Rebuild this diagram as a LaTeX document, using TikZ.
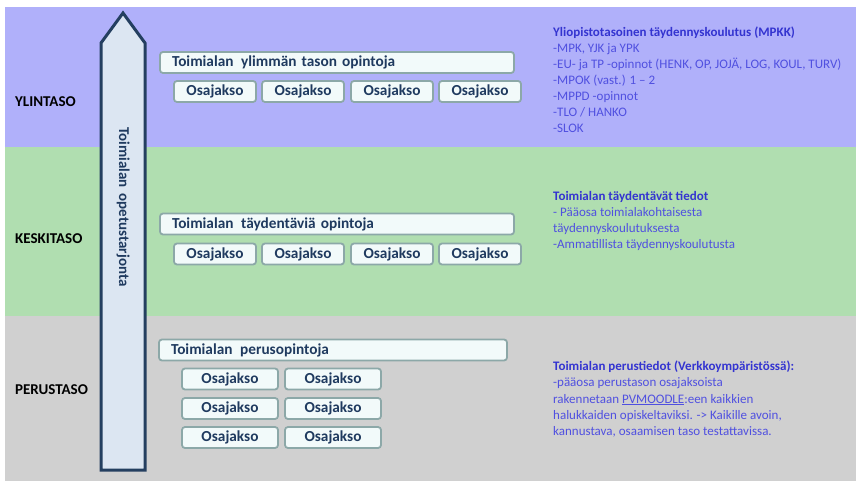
\documentclass[tikz,border=0pt]{standalone}
\usepackage{fontspec}
\setmainfont{Carlito}
\usetikzlibrary{positioning}
\definecolor{ylin-bg}{HTML}{B0B0FA}
\definecolor{keski-bg}{HTML}{B0DEB0}
\definecolor{perus-bg}{HTML}{D0D0D0}
\definecolor{box-line}{HTML}{8CA8A8}
\definecolor{box-fill}{HTML}{F2FAFA}
\definecolor{box-text}{HTML}{1F3A5F}
\definecolor{arrow-line}{HTML}{243F60}
\definecolor{arrow-fill}{HTML}{DCE6F2}
\definecolor{info-title}{HTML}{3434D0}
\definecolor{info-text}{HTML}{5050E0}
\newcommand{\drawOsajakso}[4]{
	\node[osa, minimum width=#4] (#1) at (#2,#3) {Osajakso};
}

\begin{document}
\begin{tikzpicture}[x=1pt, y=-1pt,
	osa/.style={draw=box-line, fill=box-fill, line width=1.8pt, rounded corners=3pt,
		minimum height=21pt, inner sep=0pt, text=box-text, font=\bfseries\fontsize{15.3}{17}\selectfont},
	titlebox/.style={osa, text width=330pt, inner xsep=12pt, align=left},
	level/.style={anchor=west, inner sep=0pt, font=\bfseries\fontsize{15}{17}\selectfont},
	info/.style={anchor=north west, inner sep=0pt, align=left, text=info-text,
		font=\fontsize{13}{16.1}\selectfont}]

	\useasboundingbox (0,0) rectangle (856,481);

	% background bands
	\fill[ylin-bg]  (5,7)   rectangle (856,147);
	\fill[keski-bg] (5,147) rectangle (856,316);
	\fill[perus-bg] (5,316) rectangle (856,481);

	\node[level] (ylintaso)  at (15,102) {YLINTASO};
	\node[level] (keskitaso) at (15,239) {KESKITASO};
	\node[level] (perustaso) at (15,390) {PERUSTASO};

	% the big arrow
	\draw[draw=arrow-line, fill=arrow-fill, line width=3pt, line join=miter]
		(101,470) -- (101,43) -- (123,13) -- (145,43) -- (145,470) -- cycle;
	\node[rotate=-90, text=box-text, font=\bfseries\fontsize{15}{17}\selectfont] (tarjonta)
		at (123,207) {Toimialan\, opetustarjonta};

	% ylintaso
	\node[titlebox] (ylin) at (337,62.5) {Toimialan\, ylimmän tason opintoja};
	\drawOsajakso{ylinA}{215}{91.5}{82pt}
	\drawOsajakso{ylinB}{303}{91.5}{82pt}
	\drawOsajakso{ylinC}{392}{91.5}{82pt}
	\drawOsajakso{ylinD}{480}{91.5}{82pt}

	% keskitaso
	\node[titlebox] (keski) at (337,224) {Toimialan\, täydentäviä opintoja};
	\drawOsajakso{keskiA}{215}{254}{82pt}
	\drawOsajakso{keskiB}{303}{254}{82pt}
	\drawOsajakso{keskiC}{392}{254}{82pt}
	\drawOsajakso{keskiD}{480}{254}{82pt}

	% perustaso
	\node[titlebox, text width=324pt] (perus) at (333,350) {Toimialan\, perusopintoja};
	\drawOsajakso{perusA}{230}{379}{96pt}
	\drawOsajakso{perusB}{333}{379}{96pt}
	\drawOsajakso{perusC}{230}{408.5}{96pt}
	\drawOsajakso{perusD}{333}{408.5}{96pt}
	\drawOsajakso{perusE}{230}{437.5}{96pt}
	\drawOsajakso{perusF}{333}{437.5}{96pt}

	% info texts
	\node[info] (ylinInfo) at (553,26.5) {\textcolor{info-title}{\bfseries Yliopistotasoinen täydennyskoulutus (MPKK)}\\
		-MPK, YJK ja YPK\\
		-EU- ja TP -opinnot (HENK, OP, JOJÄ, LOG, KOUL, TURV)\\
		-MPOK (vast.) 1 – 2\\
		-MPPD -opinnot\\
		-TLO / HANKO\\
		-SLOK};
	\node[info] (keskiInfo) at (553,191) {\textcolor{info-title}{\bfseries Toimialan täydentävät tiedot}\\
		- Pääosa toimialakohtaisesta\\
		täydennyskoulutuksesta\\
		-Ammatillista täydennyskoulutusta};
	\node[info] (perusInfo) at (553,361) {\textcolor{info-title}{\bfseries Toimialan perustiedot (Verkkoympäristössä):}\\
		-pääosa perustason osajaksoista\\
		rakennetaan \underline{PVMOODLE}:een kaikkien\\
		halukkaiden opiskeltaviksi. -> Kaikille avoin,\\
		kannustava, osaamisen taso testattavissa.};

\end{tikzpicture}
\end{document}
